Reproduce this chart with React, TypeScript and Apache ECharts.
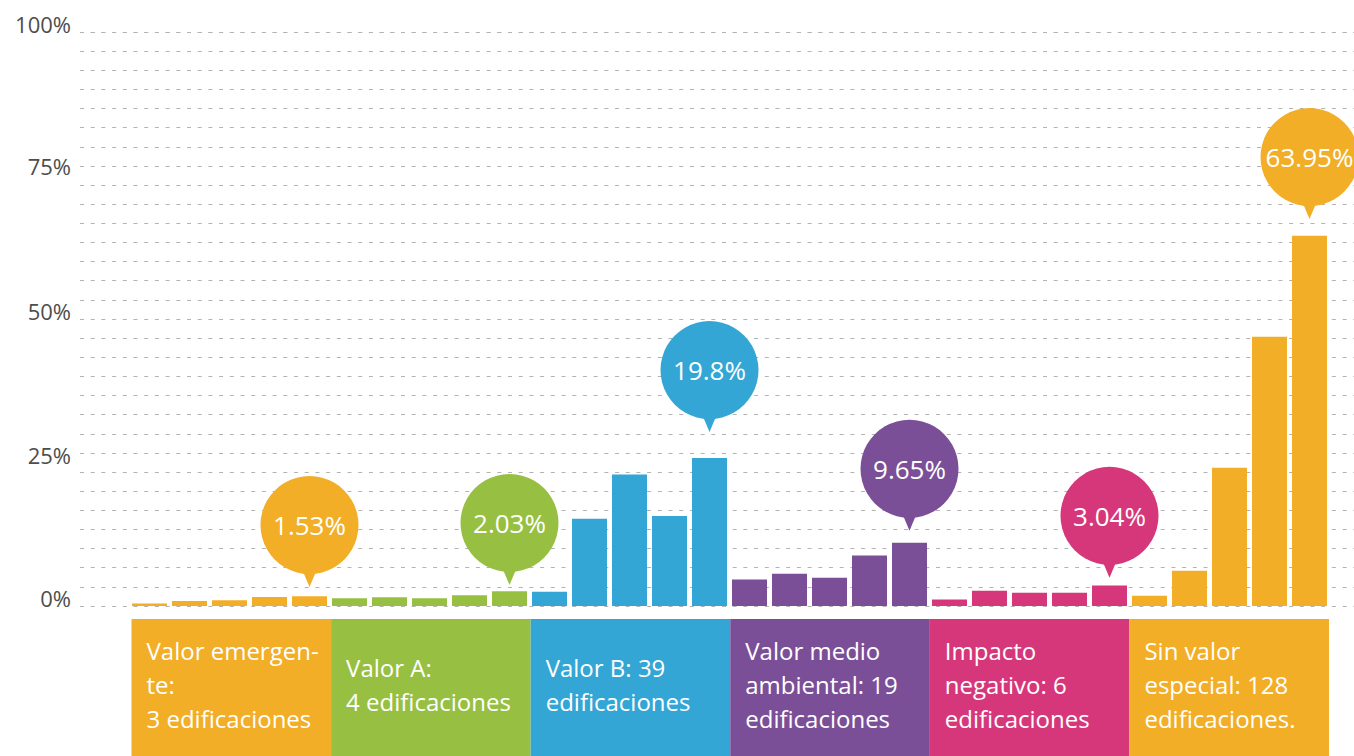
import React, { useEffect, useRef } from "react";
import * as echarts from "echarts";

// ---- data ----
const groupNames = [
  "Valor emergente",
  "Valor A",
  "Valor B",
  "Valor medio ambiental",
  "Impacto negativo",
  "Sin valor especial",
];
const boxLabels = [
  "Valor emergen-\nte:\n3 edificaciones",
  "Valor A:\n4 edificaciones",
  "Valor B: 39\nedificaciones",
  "Valor medio\nambiental: 19\nedificaciones",
  "Impacto\nnegativo: 6\nedificaciones",
  "Sin valor\nespecial: 128\nedificaciones.",
];
const groupColors = ["#F2AE27", "#97C043", "#33A6D6", "#7B4F97", "#D6377A", "#F2AE27"];

const valorEmergente = [0.45, 0.85, 1.0, 1.55, 1.7];
const valorA = [1.34, 1.52, 1.34, 1.86, 2.56];
const valorB = [2.5, 15.2, 22.9, 15.7, 25.8];
const valorMedioAmbiental = [4.6, 5.6, 4.9, 8.8, 11.0];
const impactoNegativo = [1.15, 2.67, 2.32, 2.32, 3.59];
const sinValorEspecial = [1.8, 6.15, 24.1, 46.9, 64.5];
const groupValues = [valorEmergente, valorA, valorB, valorMedioAmbiental, impactoNegativo, sinValorEspecial];

const bubbleLabels = ["1.53%", "2.03%", "19.8%", "9.65%", "3.04%", "63.95%"];
const bubbleBarInGroup = [4, 4, 4, 4, 4, 4];
const bubbleAnchors = [3.3, 3.66, 30.3, 13.1, 4.9, 67.4];

// y axis: 30 dotted grid steps from 0 to 100
const yMax = 100;
const ySteps = 30;
const yTickLabels = ["0%", "25%", "50%", "75%", "100%"];
const yTickStep = [0, 8, 15, 23, 30];
const yTickStyle = ["a", "c", "a", "b", "a"];

export default function App() {
  const ref = useRef<HTMLDivElement>(null);

  useEffect(() => {
    if (!ref.current) return;
    const chart = echarts.init(ref.current, undefined, { renderer: "svg" });

    const categories: string[] = [];
    const barData: any[] = [];
    groupValues.forEach((vals, g) => {
      vals.forEach((v, i) => {
        categories.push(groupNames[g] + " " + (i + 1));
        barData.push({ value: v, itemStyle: { color: groupColors[g] } });
      });
    });

    const bubbleData = bubbleAnchors.map((a, g) => [g * 5 + bubbleBarInGroup[g], a]);

    const font = "'Open Sans', 'Noto Sans', sans-serif";
    const interval = yMax / ySteps;

    const option: any = {
      animation: false,
      grid: [
        { left: 80, right: 0, top: 32, bottom: 150 },
        { left: 129.5, width: 1200, top: 32, bottom: 150 },
        { left: 131.5, width: 1197.5, top: 619, bottom: 0 },
      ],
      xAxis: [
        { type: "value", gridIndex: 0, min: 0, max: 1, show: false },
        {
          type: "category",
          gridIndex: 1,
          data: categories,
          axisLine: { show: false },
          axisTick: { show: false },
          axisLabel: { show: false },
        },
        {
          type: "category",
          gridIndex: 2,
          data: groupNames,
          axisLine: { show: false },
          axisTick: { show: false },
          axisLabel: { show: false },
        },
      ],
      yAxis: [
        {
          type: "value",
          gridIndex: 0,
          min: 0,
          max: yMax,
          interval: interval,
          axisLine: { show: false },
          axisTick: { show: false },
          splitLine: {
            show: true,
            lineStyle: { color: "#b3b3b3", width: 1.2, type: [4, 6.7] },
          },
          axisLabel: {
            margin: 9,
            color: "#4d4d4d",
            fontSize: 22,
            fontFamily: font,
            formatter: (value: number) => {
              const k = Math.round(value / interval);
              const idx = yTickStep.indexOf(k);
              if (idx < 0) return "";
              return "{" + yTickStyle[idx] + "|" + yTickLabels[idx] + "}";
            },
            rich: {
              a: { fontSize: 22, color: "#4d4d4d", fontFamily: font, padding: [0, 0, 16, 0] },
              b: { fontSize: 22, color: "#4d4d4d", fontFamily: font },
              c: { fontSize: 22, color: "#4d4d4d", fontFamily: font, padding: [4, 0, 0, 0] },
            },
          },
        },
        { type: "value", gridIndex: 1, min: 0, max: yMax, show: false, splitLine: { show: false } },
        { type: "value", gridIndex: 2, min: 0, max: 1, show: false, splitLine: { show: false } },
      ],
      series: [
        {
          type: "bar",
          xAxisIndex: 1,
          yAxisIndex: 1,
          data: barData,
          barWidth: 35,
          z: 3,
        },
        {
          type: "bar",
          xAxisIndex: 2,
          yAxisIndex: 2,
          barCategoryGap: "0%",
          data: groupColors.map((c, g) => ({ value: 1, itemStyle: { color: c }, label: { formatter: boxLabels[g] } })),
          label: {
            show: true,
            position: "insideLeft",
            distance: 15,
            offset: [0, -3],
            color: "#ffffff",
            fontSize: 24,
            lineHeight: 34,
            fontFamily: font,
          },
          z: 3,
        },
        {
          type: "custom",
          xAxisIndex: 1,
          yAxisIndex: 1,
          data: bubbleData,
          z: 10,
          clip: false,
          renderItem: (params: any, api: any) => {
            const p = api.coord([api.value(0), api.value(1)]);
            const g = params.dataIndex;
            const r = 49;
            const cx = p[0];
            const cy = p[1] - 62;
            const color = groupColors[g];
            return {
              type: "group",
              children: [
                {
                  type: "polygon",
                  shape: {
                    points: [
                      [cx - 8, cy + r - 6],
                      [cx + 8, cy + r - 6],
                      [cx, p[1]],
                    ],
                  },
                  style: { fill: color },
                },
                {
                  type: "circle",
                  shape: { cx, cy, r },
                  style: { fill: color },
                },
                {
                  type: "text",
                  x: cx,
                  y: cy,
                  style: {
                    text: bubbleLabels[g],
                    fill: "#ffffff",
                    fontSize: 26,
                    fontFamily: font,
                    align: "center",
                    verticalAlign: "middle",
                  },
                },
              ],
            };
          },
        },
      ],
    };

    chart.setOption(option);
    return () => chart.dispose();
  }, []);

  return (
    <div
      ref={ref}
      style={{ position: "fixed", left: 0, top: 0, width: 1354, height: 756, background: "#ffffff" }}
    />
  );
}
